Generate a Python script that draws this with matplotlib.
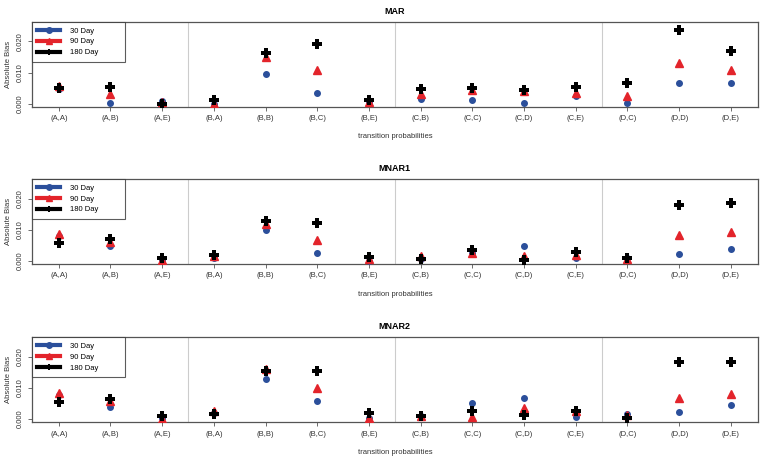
import matplotlib.pyplot as plt
from matplotlib.lines import Line2D
import numpy as np

plt.rcParams['font.family'] = ['Liberation Sans', 'DejaVu Sans']

categories = ["(A,A)", "(A,B)", "(A,E)", "(B,A)", "(B,B)", "(B,C)", "(B,E)",
              "(C,B)", "(C,C)", "(C,D)", "(C,E)", "(D,C)", "(D,D)", "(D,E)"]

# MAR
mar_30 = [0.0047, 0.0004, 0.0009, 0.0000, 0.0096, 0.0034, 0.0005,
          0.0015, 0.0013, 0.0004, 0.0026, 0.0004, 0.0066, 0.0066]
mar_90 = [0.0058, 0.0031, 0.0005, 0.0001, 0.0149, 0.0107, 0.0005,
          0.0030, 0.0045, 0.0042, 0.0034, 0.0026, 0.0130, 0.0107]
mar_180 = [0.0051, 0.0053, 0.0001, 0.0013, 0.0163, 0.0191, 0.0013,
           0.0047, 0.0052, 0.0045, 0.0053, 0.0066, 0.0235, 0.0170]

# MNAR1
mnar1_30 = [0.0080, 0.0049, 0.0002, 0.0010, 0.0099, 0.0026, 0.0000,
            0.0008, 0.0027, 0.0047, 0.0011, 0.0009, 0.0022, 0.0037]
mnar1_90 = [0.0085, 0.0061, 0.0002, 0.0016, 0.0120, 0.0067, 0.0005,
            0.0016, 0.0026, 0.0016, 0.0019, 0.0007, 0.0084, 0.0093]
mnar1_180 = [0.0057, 0.0069, 0.0011, 0.0018, 0.0127, 0.0122, 0.0014,
             0.0005, 0.0036, 0.0003, 0.0030, 0.0010, 0.0178, 0.0185]

# MNAR2
mnar2_30 = [0.0077, 0.0040, 0.0003, 0.0019, 0.0130, 0.0059, 0.0005,
            0.0009, 0.0053, 0.0068, 0.0007, 0.0018, 0.0024, 0.0044]
mnar2_90 = [0.0083, 0.0059, 0.0000, 0.0026, 0.0160, 0.0100, 0.0005,
            0.0009, 0.0006, 0.0036, 0.0025, 0.0012, 0.0069, 0.0079]
mnar2_180 = [0.0056, 0.0065, 0.0011, 0.0018, 0.0154, 0.0154, 0.0019,
             0.0009, 0.0025, 0.0012, 0.0026, 0.0004, 0.0182, 0.0182]

titles = ["MAR", "MNAR1", "MNAR2"]
panels = [(mar_30, mar_90, mar_180),
          (mnar1_30, mnar1_90, mnar1_180),
          (mnar2_30, mnar2_90, mnar2_180)]
legend_labels = ["30 Day", "90 Day", "180 Day"]

blue = "#2b4f9b"
red = "#e3242b"
grey_txt = "#333333"

fig = plt.figure(figsize=(7.6, 4.57), dpi=100)
tops = [0.952, 0.608, 0.262]
h = 0.186
x = np.arange(1, len(categories) + 1)

for top, title, (s30, s90, s180) in zip(tops, titles, panels):
    ax = fig.add_axes([0.042, top - h, 0.955, h])
    for xv in [3.5, 7.5, 11.5]:
        ax.axvline(xv, color="#cccccc", lw=0.8, zorder=0)
    ax.plot(x, s30, "o", color=blue, ms=4, zorder=3)
    ax.plot(x, s90, "^", color=red, ms=6, zorder=4)
    ax.plot(x, s180, "P", color="black", ms=7, mew=0, zorder=5)
    ax.set_xlim(0.48, 14.52)
    ax.set_ylim(-0.001, 0.0262)
    ax.set_xticks(x)
    ax.set_xticklabels(categories, fontsize=5.5, color=grey_txt)
    ax.set_yticks([0.0, 0.01, 0.02])
    ax.set_yticklabels(["0.000", "0.010", "0.020"], fontsize=5.5,
                       rotation=90, va="center", color=grey_txt)
    ax.tick_params(length=3, width=0.6, color="#555555", pad=3)
    for sp in ax.spines.values():
        sp.set_color("#555555")
        sp.set_linewidth(0.9)
    ax.set_title(title, fontsize=6.5, fontweight="bold", pad=6)
    ax.set_xlabel("transition probabilities", fontsize=5.5, color=grey_txt,
                  labelpad=8)
    ax.set_ylabel("Absolute Bias", fontsize=5.5, color=grey_txt, labelpad=3)
    handles = [Line2D([], [], color=blue, lw=3, marker="o", ms=4),
               Line2D([], [], color=red, lw=3, marker="^", ms=5),
               Line2D([], [], color="black", lw=3, marker="P", ms=5, mew=0)]
    # trailing spaces widen the box like R's legend
    leg = ax.legend(handles, [s + "          " for s in legend_labels],
                    loc="upper left", fontsize=5.5, frameon=True,
                    fancybox=False, borderaxespad=0, handlelength=3.0,
                    handletextpad=1.3, borderpad=0.7, labelspacing=0.45)
    leg.get_frame().set_edgecolor("#333333")
    leg.get_frame().set_linewidth(0.8)

fig.savefig("out.png", dpi=100)
